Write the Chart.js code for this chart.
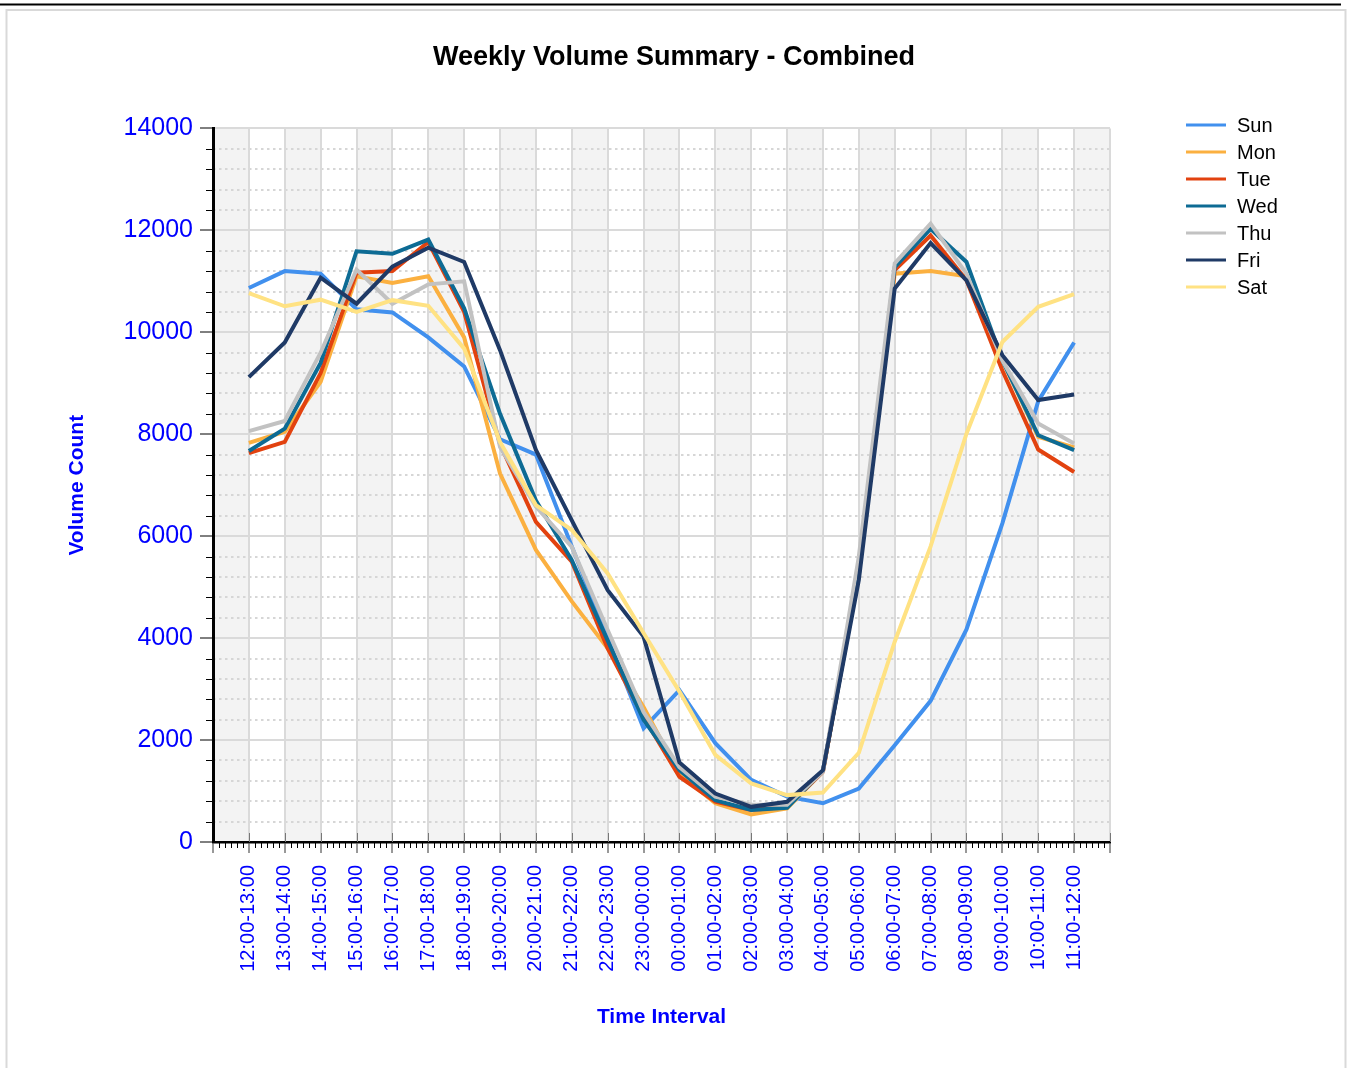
<!DOCTYPE html>
<html lang="en">
<head>
<meta charset="utf-8">
<title>Weekly Volume Summary - Combined</title>
<script src="https://cdn.jsdelivr.net/npm/chart.js"></script>
<style>
    html, body { margin: 0; padding: 0; background: #fff; overflow: hidden; }
    .chart-box { position: relative; width: 1348px; height: 1068px; }
</style>
</head>
<body>
<div class="chart-box"><canvas id="volume-chart"></canvas></div>
<script>
    "use strict";

    // Hourly intervals, noon to noon
    var intervals = [
        '12:00-13:00', '13:00-14:00', '14:00-15:00', '15:00-16:00', '16:00-17:00', '17:00-18:00',
        '18:00-19:00', '19:00-20:00', '20:00-21:00', '21:00-22:00', '22:00-23:00', '23:00-00:00',
        '00:00-01:00', '01:00-02:00', '02:00-03:00', '03:00-04:00', '04:00-05:00', '05:00-06:00',
        '06:00-07:00', '07:00-08:00', '08:00-09:00', '09:00-10:00', '10:00-11:00', '11:00-12:00'
    ];

    // Volume counts per day
    var sun = [10870, 11200, 11150, 10450, 10390, 9900, 9330, 7900, 7600, 5800, 4000, 2230, 2980, 1940, 1220, 890, 760, 1050, 1900, 2770, 4170, 6250, 8650, 9800];
    var mon = [7830, 8050, 9030, 11100, 10970, 11100, 9900, 7230, 5730, 4720, 3800, 2650, 1330, 760, 540, 660, 1380, 5300, 11150, 11200, 11100, 9450, 7950, 7740];
    var tue = [7630, 7850, 9200, 11170, 11200, 11770, 10400, 7800, 6280, 5500, 3800, 2450, 1280, 790, 630, 690, 1380, 5300, 11220, 11900, 11020, 9250, 7700, 7260];
    var wed = [7670, 8110, 9400, 11590, 11540, 11820, 10470, 8400, 6700, 5530, 3950, 2400, 1410, 820, 630, 670, 1400, 5250, 11280, 12030, 11380, 9450, 7980, 7690];
    var thu = [8060, 8260, 9600, 11230, 10560, 10940, 11000, 7750, 6580, 5790, 4160, 2550, 1470, 890, 730, 730, 1380, 5600, 11350, 12130, 11150, 9450, 8210, 7820];
    var fri = [9120, 9800, 11070, 10560, 11290, 11660, 11380, 9650, 7690, 6310, 4940, 4030, 1560, 950, 690, 790, 1410, 5140, 10860, 11750, 11020, 9550, 8670, 8780];
    var sat = [10770, 10510, 10640, 10400, 10630, 10520, 9680, 7850, 6610, 6120, 5270, 4100, 2950, 1710, 1150, 920, 970, 1750, 3930, 5800, 8010, 9810, 10500, 10750];

    var dayNames = ['Sun', 'Mon', 'Tue', 'Wed', 'Thu', 'Fri', 'Sat'];
    var dayValues = [sun, mon, tue, wed, thu, fri, sat];
    var dayColors = ['#4190ee', '#fbb040', '#e2420f', '#0d6b94', '#c2c2c2', '#1f3a66', '#ffe283'];

    var yMax = 14000, yStep = 2000, minorStep = 400;
    var font = '"Liberation Sans", Arial, sans-serif';

    // Frame, column stripes and dotted minor grid, all under the main grid
    var backdrop = {
        id: 'backdrop',
        beforeDraw: function (chart) {
            var ctx = chart.ctx, area = chart.chartArea;
            var x = chart.scales.x, y = chart.scales.y;
            ctx.save();
            ctx.fillStyle = '#fff';
            ctx.fillRect(0, 0, chart.width, chart.height);

            ctx.strokeStyle = '#000';
            ctx.lineWidth = 2;
            ctx.beginPath();
            ctx.moveTo(0, 4.5);
            ctx.lineTo(1341, 4.5);
            ctx.stroke();
            ctx.strokeStyle = '#d9d9d9';
            ctx.strokeRect(6.5, 10, 1339, 1080);

            ctx.fillStyle = '#f3f3f3';
            for (var k = 0; k < 25; k += 2) {
                var x0 = x.getPixelForValue(k), x1 = x.getPixelForValue(k + 1);
                ctx.fillRect(x0, area.top, x1 - x0, area.bottom - area.top);
            }

            ctx.strokeStyle = '#d6d6d6';
            ctx.lineWidth = 2;
            ctx.setLineDash([2.5, 3.5]);
            for (var v = minorStep; v < yMax; v += minorStep) {
                if (v % yStep === 0) continue;
                var py = Math.round(y.getPixelForValue(v));
                ctx.beginPath();
                ctx.moveTo(area.left, py);
                ctx.lineTo(area.right, py);
                ctx.stroke();
            }
            ctx.restore();
        },
        afterDraw: function (chart) {
            var ctx = chart.ctx, area = chart.chartArea;
            var x = chart.scales.x, y = chart.scales.y;
            ctx.save();

            // minor tick marks on both axes
            ctx.strokeStyle = '#000';
            ctx.lineWidth = 1;
            ctx.beginPath();
            for (var v = minorStep; v < yMax; v += minorStep) {
                if (v % yStep === 0) continue;
                var py = Math.round(y.getPixelForValue(v)) + 0.5;
                ctx.moveTo(area.left - 7, py);
                ctx.lineTo(area.left, py);
            }
            for (var k = 0; k < 25; k++) {
                for (var j = 1; j < 6; j++) {
                    var px = Math.round(x.getPixelForValue(k + j / 6)) + 0.5;
                    ctx.moveTo(px, area.bottom);
                    ctx.lineTo(px, area.bottom + 6);
                }
            }
            ctx.stroke();

            ctx.strokeStyle = '#777';
            ctx.beginPath();
            for (var m = 1; m <= 25; m++) {
                var mx = Math.round(x.getPixelForValue(m)) + 0.5;
                ctx.moveTo(mx, area.bottom - 9);
                ctx.lineTo(mx, area.bottom);
            }
            ctx.stroke();

            // legend
            ctx.font = '20px ' + font;
            ctx.textBaseline = 'middle';
            chart.data.datasets.forEach(function (ds, i) {
                var ly = 125 + i * 27;
                ctx.strokeStyle = ds.borderColor;
                ctx.lineWidth = 3;
                ctx.beginPath();
                ctx.moveTo(area.right + 76, ly);
                ctx.lineTo(area.right + 116, ly);
                ctx.stroke();
                ctx.fillStyle = '#000';
                ctx.fillText(ds.label, area.right + 127, ly + 1);
            });
            ctx.restore();
        }
    };

    var datasets = dayNames.map(function (name, i) {
        return {
            label: name,
            data: dayValues[i].map(function (v, n) { return { x: n + 1, y: v }; }),
            borderColor: dayColors[i],
            backgroundColor: dayColors[i],
            borderWidth: 4,
            pointRadius: 0,
            tension: 0,
            fill: false,
            order: dayNames.length - i
        };
    });

    var ctx1 = document.getElementById('volume-chart').getContext('2d');
    var volumeChart = new Chart(ctx1, {
        type: 'line',
        data: { datasets: datasets },
        plugins: [backdrop],
        options: {
            responsive: true,
            maintainAspectRatio: false,
            animation: false,
            layout: { padding: 0 },
            plugins: {
                legend: { display: false },
                tooltip: { enabled: false },
                title: {
                    display: true,
                    text: 'Weekly Volume Summary - Combined',
                    color: '#000',
                    font: { family: font, size: 27, weight: 'bold' },
                    padding: { top: 41, bottom: 55 }
                }
            },
            scales: {
                x: {
                    type: 'linear',
                    min: 0,
                    max: intervals.length + 1,
                    grid: { color: '#dadada', lineWidth: 2, tickColor: '#333', tickWidth: 1, tickLength: 11 },
                    border: { color: '#000', width: 2.5 },
                    ticks: {
                        stepSize: 1,
                        autoSkip: false,
                        minRotation: 90,
                        maxRotation: 90,
                        padding: 12,
                        color: '#0000ff',
                        font: { family: font, size: 20 },
                        callback: function (value) { return intervals[value - 1] || ''; }
                    },
                    title: {
                        display: true,
                        text: 'Time Interval',
                        color: '#0000ff',
                        font: { family: font, size: 21, weight: 'bold' },
                        padding: { top: 0, bottom: 38 }
                    },
                    afterFit: function (scale) { scale.height = 226; }
                },
                y: {
                    min: 0,
                    max: yMax,
                    grid: { color: '#dadada', lineWidth: 2, tickColor: '#000', tickWidth: 1, tickLength: 13 },
                    border: { color: '#000', width: 3 },
                    ticks: {
                        stepSize: yStep,
                        padding: 7,
                        color: '#0000ff',
                        font: { family: font, size: 25 },
                        callback: function (value) { return String(value); }
                    },
                    title: {
                        display: true,
                        text: 'Volume Count',
                        color: '#0000ff',
                        font: { family: font, size: 21, weight: 'bold' },
                        padding: { top: 65, bottom: 0 }
                    },
                    afterFit: function (scale) { scale.width = 213; }
                },
                // empty strip on the right that holds the legend
                pad: {
                    position: 'right',
                    grid: { display: false },
                    border: { display: false },
                    ticks: { display: false },
                    afterFit: function (scale) { scale.width = 238; }
                }
            }
        }
    });
</script>
</body>
</html>
